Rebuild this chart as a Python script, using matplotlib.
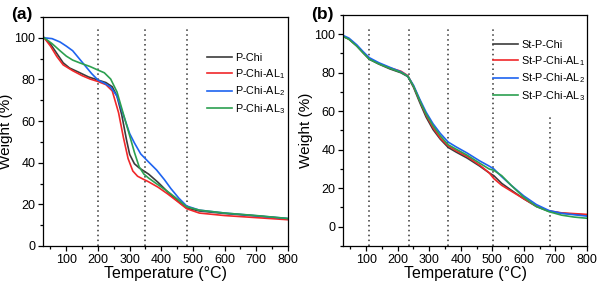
import matplotlib
matplotlib.use("Agg")
import matplotlib.pyplot as plt
from matplotlib.ticker import MultipleLocator

plt.rcParams['font.family'] = ['Liberation Sans', 'DejaVu Sans']
plt.rcParams['mathtext.fontset'] = 'custom'
plt.rcParams['mathtext.rm'] = 'Liberation Sans'
plt.rcParams['mathtext.it'] = 'Liberation Sans'

# ---------------- Panel (a) data ----------------
a_labels = ['P-Chi', 'P-Chi-AL$_1$', 'P-Chi-AL$_2$', 'P-Chi-AL$_3$']
a_T_black = [30, 50, 70, 90, 110, 140, 170, 200, 225, 245, 260, 275, 290, 300, 315, 330, 345, 360, 390, 420, 450, 480, 520, 600, 700, 800]
a_W_black = [100, 97, 92.5, 88, 85.5, 83.4, 81.2, 79.7, 78.5, 76.5, 72, 63, 51, 44, 39.5, 37.5, 36, 34.5, 30.5, 26, 21.8, 18.2, 16.8, 15.6, 14.4, 13]
a_T_red = [30, 50, 70, 90, 120, 150, 175, 200, 225, 245, 265, 280, 295, 310, 325, 340, 360, 390, 420, 450, 480, 520, 600, 700, 800]
a_W_red = [100, 96, 91, 87, 84.2, 81.8, 80.2, 79, 77.5, 74.5, 64, 52.3, 42, 36, 33.5, 32.3, 30.8, 28.2, 25, 21.5, 17.9, 15.8, 14.6, 13.6, 12.6]
a_T_blue = [30, 55, 80, 100, 120, 150, 180, 200, 220, 240, 260, 280, 300, 315, 335, 360, 385, 410, 430, 455, 480, 520, 600, 700, 800]
a_W_blue = [100, 99.6, 98, 96, 93.8, 88.3, 82.8, 79.7, 78.2, 76.3, 72, 63, 54, 49.5, 44.2, 40.3, 36.5, 31.8, 27.6, 23, 19.2, 17.2, 15.8, 14.5, 13.2]
a_T_green = [30, 55, 80, 100, 120, 145, 175, 200, 220, 240, 260, 280, 300, 315, 330, 345, 360, 380, 400, 430, 455, 480, 520, 600, 700, 800]
a_W_green = [100, 97.2, 93.8, 91.2, 89.3, 87.8, 86.2, 84.5, 83.2, 80.2, 74, 63.5, 53, 45, 38, 34.5, 32.6, 30.4, 28.3, 25, 22, 18.8, 17.2, 15.8, 14.6, 13.2]
a_vlines = [200, 350, 480]

# ---------------- Panel (b) data ----------------
b_labels = ['St-P-Chi', 'St-P-Chi-AL$_1$', 'St-P-Chi-AL$_2$', 'St-P-Chi-AL$_3$']
b_T = [25, 45, 70, 90, 110, 140, 175, 210, 232, 250, 270, 290, 312, 335, 360, 385, 420, 460, 490, 505, 530, 560, 600, 640, 680, 720, 760, 800]
b_W_black = [99, 97.5, 94, 90.5, 87, 84.5, 82, 80, 78, 72.5, 64.5, 57, 50.5, 45.5, 41.2, 38.8, 35.7, 31.5, 28, 26.5, 22.5, 19, 14.5, 10.5, 8, 7, 6.5, 6.1]
b_W_red = [99, 97.5, 94, 90.5, 87.2, 84.8, 82.5, 80.8, 78.5, 73, 65.5, 58, 51.5, 46, 42, 39.5, 36.5, 32, 28, 25, 21.5, 18.5, 14.5, 10.7, 8.2, 7.2, 6.8, 6.4]
b_W_blue = [99.5, 98, 94.5, 91, 87.8, 85.2, 82.8, 80.5, 78.2, 73.5, 66.2, 59.5, 53.5, 48.5, 44, 41.5, 38.3, 34.2, 31.5, 30, 26, 21.5, 16, 11.5, 8.4, 7, 6.2, 5.5]
b_W_green = [99, 97.4, 93.8, 90.3, 87, 84.6, 82.3, 80.2, 78.2, 73, 65.5, 58.5, 52.5, 47.2, 42.6, 40.3, 37.2, 33, 30, 29.3, 26.5, 21.5, 15.3, 10.5, 7.8, 6, 5, 4.4]
b_vlines = [110, 235, 360, 503, 683]
b_vline_tops = [103, 103, 103, 103, 57]

colors = ['#3c3c3c', '#f0282a', '#1e64f0', '#2ca050']

fig = plt.figure(figsize=(6, 2.88), dpi=100)
axa = fig.add_axes([0.072, 0.146, 0.408, 0.795])
axb = fig.add_axes([0.572, 0.146, 0.406, 0.802])

def style(ax, ylim, yticks):
    ax.set_xlim(27, 800)
    ax.set_ylim(*ylim)
    ax.set_yticks(yticks)
    ax.set_xticks([100, 200, 300, 400, 500, 600, 700, 800])
    ax.xaxis.set_minor_locator(MultipleLocator(50))
    ax.yaxis.set_minor_locator(MultipleLocator(10))
    ax.tick_params(which='both', direction='out', top=False, right=False, labelsize=9, width=0.9, pad=2)
    ax.tick_params(which='major', length=3.5)
    ax.tick_params(which='minor', length=2)
    for s in ax.spines.values():
        s.set_linewidth(0.9)
    ax.set_xlabel('Temperature (°C)', fontsize=11.5, labelpad=0)
    ax.set_ylabel('Weight (%)', fontsize=11, labelpad=1)

# panel a
for x in a_vlines:
    axa.vlines(x, 0, 104, colors='#333333', linestyles=(0, (1, 2.2)), linewidth=1.1)
a_series = [(a_T_black, a_W_black), (a_T_red, a_W_red), (a_T_blue, a_W_blue), (a_T_green, a_W_green)]
for (T, W), c, lab in zip(a_series, colors, a_labels):
    axa.plot(T, W, color=c, lw=1.2, label=lab)
style(axa, (0, 110), [0, 20, 40, 60, 80, 100])
axa.legend(loc='upper right', bbox_to_anchor=(1.015, 0.87), frameon=False, fontsize=7.8,
           handlelength=2.3, handletextpad=0.3, labelspacing=0.35, borderaxespad=0.2)
fig.text(0.018, 0.975, '(a)', fontsize=12.5, fontweight='bold', va='top')

# panel b
for x, top in zip(b_vlines, b_vline_tops):
    axb.vlines(x, -10, top, colors='#333333', linestyles=(0, (1, 2.2)), linewidth=1.1)
for W, c, lab in zip([b_W_black, b_W_red, b_W_blue, b_W_green], colors, b_labels):
    axb.plot(b_T, W, color=c, lw=1.2, label=lab)
style(axb, (-10, 110), [0, 20, 40, 60, 80, 100])
axb.legend(loc='upper right', bbox_to_anchor=(1.02, 0.92), frameon=False, fontsize=7.8,
           handlelength=2.3, handletextpad=0.3, labelspacing=0.35, borderaxespad=0.2)
fig.text(0.518, 0.975, '(b)', fontsize=12.5, fontweight='bold', va='top')

fig.savefig('out.png', dpi=100)
